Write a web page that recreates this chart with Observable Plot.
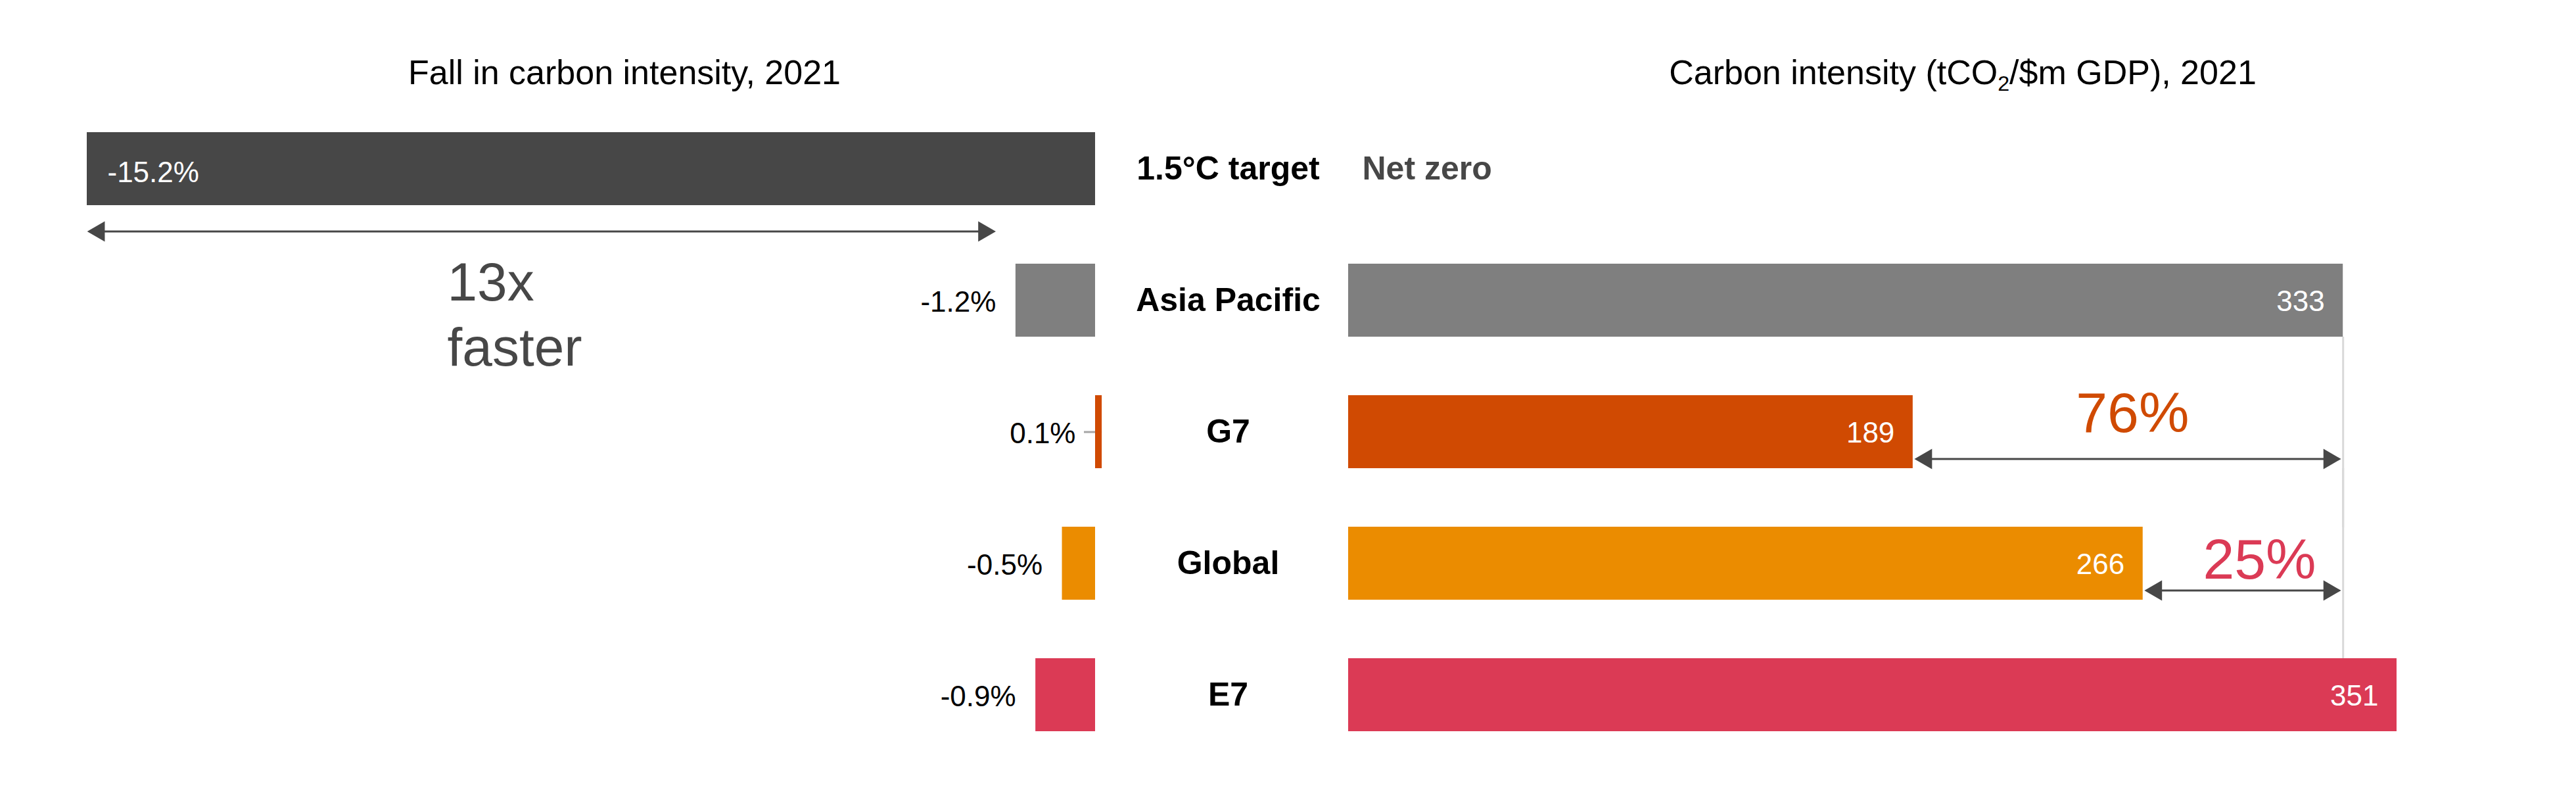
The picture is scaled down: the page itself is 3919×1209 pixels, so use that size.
<!DOCTYPE html>
<html><head><meta charset="utf-8">
<script src="https://cdn.jsdelivr.net/npm/d3@7"></script>
<script src="https://cdn.jsdelivr.net/npm/@observablehq/plot@0.6"></script>
<style>
html,body{margin:0;padding:0;background:#fff;}
#chart{position:relative;width:3919px;height:1209px;font-family:"Liberation Sans",Arial,sans-serif;display:flex;}
#chart svg{display:block;flex:none;}
.title{position:absolute;top:84px;font-size:52px;line-height:1;color:#000;white-space:nowrap;transform:translateX(-50%);}
.title sub{font-size:0.62em;vertical-align:baseline;position:relative;top:0.32em;}
</style></head><body>
<div id="chart"></div>
<script>
// ---- data ----
const categories = ["1.5°C target", "Asia Pacific", "G7", "Global", "E7"];
const fallValues = [-15.2, -1.2, 0.1, -0.5, -0.9];          // % change in carbon intensity, 2021
const intensityValues = [null, 333, 189, 266, 351];          // tCO2/$m GDP, 2021
const targetLabel = "Net zero";
const leftTitle = "Fall in carbon intensity, 2021";
const rightTitleHTML = "Carbon intensity (tCO<sub>2</sub>/$m GDP), 2021";
// annotations
const speedArrow = [{cat: "1.5°C target", from: -15.2, to: -1.5}];
const speedNote = [{cat: "Asia Pacific", x: -9.77, label: "13x\nfaster"}];
const gapArrows = [
  {cat: "G7", from: 189, to: 333, label: "76%", labelX: 262.5, colorOf: "G7"},
  {cat: "Global", from: 266, to: 333, label: "25%", labelX: 305, colorOf: "E7"}
];
const referenceCat = "Asia Pacific";

// ---- styles ----
const palette = ["#474747", "#7f7f7f", "#d04a02", "#eb8c00", "#db3a55"];
const ink = "#474747";
const font = "Liberation Sans, Arial, sans-serif";

const rows = categories.map((c, i) => ({cat: c, fall: fallValues[i], intensity: intensityValues[i]}));
const refValue = rows.find(d => d.cat === referenceCat).intensity;
const fmtPct = v => v.toFixed(1) + "%";

const yScale = {domain: categories, range: [110.6, 1202.6], padding: 0.446, axis: null};
const colorScale = {domain: categories, range: palette};

const left = Plot.plot({
  width: 1960, height: 1209,
  margin: 0,
  x: {domain: [-15.2, 0], range: [132, 1666], axis: null},
  y: yScale,
  color: colorScale,
  style: {fontFamily: font, background: "transparent", overflow: "visible"},
  marks: [
    Plot.ruleY(rows.filter(d => d.fall > 0), {y: "cat", x1: 0, x2: "fall", insetLeft: -17, stroke: "#a6a6a6", strokeWidth: 3}),
    Plot.barX(rows, {y: "cat", x1: 0, x2: "fall", fill: "cat"}),
    Plot.text(rows.filter(d => d.fall < -5), {y: "cat", x: "fall", text: d => fmtPct(d.fall), textAnchor: "start", dx: 31, dy: 6, fill: "white", fontSize: 44}),
    Plot.text(rows.filter(d => d.fall >= -5), {y: "cat", x: d => Math.min(d.fall, 0), text: d => fmtPct(d.fall), textAnchor: "end", dx: -30, dy: 3, fill: "black", fontSize: 44}),
    Plot.text(rows, {y: "cat", x: () => 0, text: "cat", textAnchor: "middle", dx: 202, fontWeight: "bold", fontSize: 50, fill: "black"}),
    Plot.ruleY(speedArrow, {y: "cat", x1: "from", x2: "to", dy: 95, insetLeft: 12, insetRight: 12, stroke: ink, strokeWidth: 3}),
    Plot.dot(speedArrow, {x: "from", y: "cat", symbol: "triangle", rotate: -90, r: 11.5, dx: 18, dy: 95, fill: ink, stroke: "none"}),
    Plot.dot(speedArrow, {x: "to", y: "cat", symbol: "triangle", rotate: 90, r: 11.5, dx: -18, dy: 95, fill: ink, stroke: "none"}),
    Plot.text(speedNote, {x: "x", y: "cat", text: "label", textAnchor: "start", lineHeight: 1.2, fontSize: 82, fill: ink, dy: 18})
  ]
});

const right = Plot.plot({
  width: 1959, height: 1209,
  margin: 0,
  x: {domain: [0, 351], range: [91, 1686], axis: null},
  y: yScale,
  color: colorScale,
  style: {fontFamily: font, background: "transparent", overflow: "visible"},
  marks: [
    Plot.ruleX(rows.filter(d => d.cat === "G7" || d.cat === "Global"), {x: () => refValue, y1: "cat", y2: "cat", insetTop: -89, insetBottom: -90, stroke: "#d9d9d9", strokeWidth: 3}),
    Plot.barX(rows.filter(d => d.intensity != null), {y: "cat", x1: 0, x2: "intensity", fill: "cat"}),
    Plot.text(rows.filter(d => d.intensity != null), {y: "cat", x: "intensity", text: d => String(d.intensity), textAnchor: "end", dx: -28, dy: 2, fill: "white", fontSize: 44}),
    Plot.text(rows.filter(d => d.intensity == null), {y: "cat", x: () => 0, text: () => targetLabel, textAnchor: "start", dx: 21, fontWeight: "bold", fontSize: 50, fill: ink}),
    Plot.ruleY(gapArrows, {y: "cat", x1: "from", x2: "to", dy: 41, insetLeft: 12, insetRight: 12, stroke: ink, strokeWidth: 3}),
    Plot.dot(gapArrows, {x: "from", y: "cat", symbol: "triangle", rotate: -90, r: 11.5, dx: 20, dy: 41, fill: ink, stroke: "none"}),
    Plot.dot(gapArrows, {x: "to", y: "cat", symbol: "triangle", rotate: 90, r: 11.5, dx: -21, dy: 41, fill: ink, stroke: "none"}),
    Plot.text(gapArrows.filter(d => d.cat === "G7"), {x: "labelX", y: "cat", text: "label", fill: "colorOf", fontSize: 86, textAnchor: "middle", dy: -28}),
    Plot.text(gapArrows.filter(d => d.cat === "Global"), {x: "labelX", y: "cat", text: "label", fill: "colorOf", fontSize: 86, textAnchor: "middle", dy: -5})
  ]
});

const chart = document.getElementById("chart");
chart.append(left, right);
const t1 = document.createElement("div");
t1.className = "title"; t1.style.left = "950px"; t1.textContent = leftTitle;
const t2 = document.createElement("div");
t2.className = "title"; t2.style.left = "2986px"; t2.innerHTML = rightTitleHTML;
chart.append(t1, t2);
</script>
</body></html>
